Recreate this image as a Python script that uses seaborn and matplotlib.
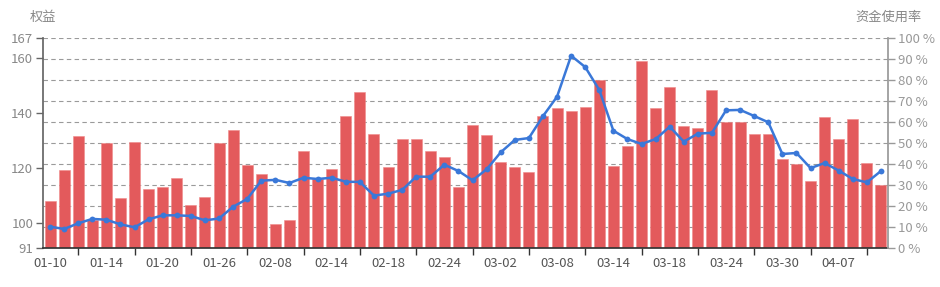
import numpy as np
import pandas as pd
import matplotlib
matplotlib.use("Agg")
import matplotlib.pyplot as plt
import seaborn as sns

dates = ["01-10", "01-11", "01-12", "01-13", "01-14", "01-17", "01-18", "01-19", "01-20", "01-21",
         "01-24", "01-25", "01-26", "01-27", "01-28", "02-07", "02-08", "02-09", "02-10", "02-11",
         "02-14", "02-15", "02-16", "02-17", "02-18", "02-21", "02-22", "02-23", "02-24", "02-25",
         "02-28", "03-01", "03-02", "03-03", "03-04", "03-07", "03-08", "03-09", "03-10", "03-11",
         "03-14", "03-15", "03-16", "03-17", "03-18", "03-21", "03-22", "03-23", "03-24", "03-25",
         "03-28", "03-29", "03-30", "03-31", "04-01", "04-06", "04-07", "04-08", "04-11", "04-12"]

equity = [108.2, 119.3, 131.8, 101.3, 129.0, 109.1, 129.4, 112.3, 113.1, 116.3,
          106.7, 109.7, 129.0, 133.7, 121.2, 117.8, 99.7, 101.3, 126.2, 116.1,
          119.6, 138.8, 147.5, 132.3, 120.4, 130.7, 130.7, 126.1, 124.0, 113.3,
          135.6, 131.9, 122.1, 120.3, 118.6, 138.9, 141.8, 140.6, 142.1, 152.0,
          120.8, 128.0, 158.8, 141.8, 149.4, 135.1, 134.5, 148.3, 136.7, 136.7,
          132.5, 132.5, 123.3, 121.5, 115.2, 138.6, 130.4, 137.7, 121.9, 114.0]

usage = [10.3, 9.2, 11.9, 14.0, 13.6, 11.4, 10.0, 13.8, 15.7, 15.7,
         15.4, 13.3, 14.2, 19.8, 23.5, 32.2, 32.6, 31.1, 33.6, 33.0,
         33.6, 31.7, 31.6, 25.1, 26.0, 27.8, 34.1, 34.1, 39.8, 36.8,
         32.4, 37.6, 45.7, 51.6, 52.5, 62.9, 72.2, 91.7, 86.3, 75.4,
         56.0, 52.0, 49.7, 52.0, 57.9, 50.8, 54.6, 55.0, 65.7, 65.9,
         63.0, 60.0, 44.9, 45.4, 38.2, 40.6, 37.0, 33.0, 31.4, 36.8]

left_ticks = [91, 100, 120, 140, 160, 167]
pct_ticks = list(range(0, 101, 10))

df = pd.DataFrame({"date": dates, "equity": equity, "usage": usage})

sns.set_theme(style="white")
plt.rcParams["font.family"] = ["Noto Sans CJK SC", "DejaVu Sans"]

fig = plt.figure(figsize=(9.4, 2.87), dpi=100)
ax1 = fig.add_axes([43 / 940, 38.7 / 287, 845 / 940, 210 / 287])
ax2 = ax1.twinx()

bar_color = "#e35a5c"
line_color = "#3a78d8"

sns.barplot(data=df, x="date", y="equity", ax=ax1, color=bar_color, width=0.78,
            saturation=1, edgecolor="#f08a8a", linewidth=0.4, zorder=2)
ax1.set_ylim(91, 167)
ax1.set_xlim(-0.5, len(dates) - 0.5)

# dashed grid at right-axis steps (drawn behind bars)
lo, hi = 91, 167
for p in pct_ticks:
    ax1.axhline(lo + (hi - lo) * p / 100, color="#9a9a9a", lw=0.8, ls=(0, (4, 3)), zorder=0)

sns.lineplot(x=np.arange(len(dates)), y=usage, ax=ax2, color=line_color, lw=1.8,
             marker="o", markersize=4.2, markeredgewidth=0, zorder=3)
ax2.set_ylim(0, 100)

# axes styling
ax1.set_xlabel("")
ax1.set_ylabel("")
ax2.set_xlabel("")
ax2.set_ylabel("")
ax1.set_yticks(left_ticks)
ax1.set_yticklabels([str(t) for t in left_ticks])
ax2.set_yticks(pct_ticks)
ax2.set_yticklabels([f"{t} %" for t in pct_ticks])

ax1.set_xticks(np.arange(0, len(dates), 4))
ax1.set_xticklabels([dates[i] for i in range(0, len(dates), 4)])
ax1.set_xticks(np.arange(2, len(dates), 4), minor=True)
ax1.tick_params(axis="x", which="major", length=0, pad=6, labelsize=9.5, labelcolor="#555555")
ax1.tick_params(axis="x", which="minor", length=5, width=1, color="#333333", direction="out", bottom=True)
ax1.tick_params(axis="y", which="major", length=5, width=1, color="#666666", direction="out",
                left=True, labelsize=9.5, labelcolor="#888888", pad=2)
ax2.tick_params(axis="y", which="major", length=5, width=1, color="#999999", direction="out",
                right=True, labelsize=9.5, labelcolor="#999999", pad=2)

for ax in (ax1, ax2):
    ax.spines["top"].set_visible(False)
    ax.grid(False)
ax1.spines["left"].set_color("#666666")
ax1.spines["bottom"].set_color("#333333")
ax1.spines["right"].set_visible(False)
ax2.spines["left"].set_visible(False)
ax2.spines["bottom"].set_visible(False)
ax2.spines["right"].set_color("#999999")
ax1.patch.set_visible(False)
ax2.patch.set_visible(False)

fig.text(43 / 940, 1 - 17 / 287, "权益", ha="center", va="center", fontsize=9.5, color="#888888")
fig.text(888 / 940, 1 - 17 / 287, "资金使用率", ha="center", va="center", fontsize=9.5, color="#888888")

fig.savefig("out.png", dpi=100)
